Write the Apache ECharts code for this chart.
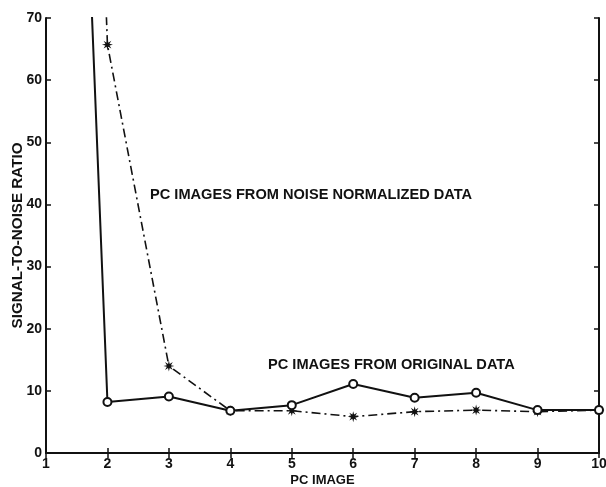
<!DOCTYPE html>
<html>
<head>
<meta charset="utf-8">
<script src="https://cdn.jsdelivr.net/npm/echarts@6/dist/echarts.min.js"></script>
<style>
  html, body { margin: 0; padding: 0; background: #fff; }
  #chart01 { width: 606px; height: 487px; }
</style>
</head>
<body>
<div id="chart01"></div>
<script>
// PC image number on the x axis
const pcImages = [1, 2, 3, 4, 5, 6, 7, 8, 9, 10];
// SNR of PC images from original data (first value is far above the plot)
const originalSnr = [255, 8.2, 9.1, 6.8, 7.7, 11.1, 8.9, 9.7, 6.9, 6.9];
// SNR of PC images from noise normalized data
const normalizedSnr = [330, 65.7, 14.0, 6.8, 6.8, 5.85, 6.65, 6.9, 6.65, 6.9];

const xLabel = "PC IMAGE";
const yLabel = "SIGNAL-TO-NOISE RATIO";
const noteNormalized = "PC IMAGES FROM NOISE NORMALIZED DATA";
const noteOriginal = "PC IMAGES FROM ORIGINAL DATA";

const font = "'Liberation Sans', Arial, sans-serif";
const ink = "#111";
const starPath =
  "path://M5,0 L5.77,3.15 L8.54,1.46 L6.85,4.23 L10,5 L6.85,5.77 L8.54,8.54 L5.77,6.85 L5,10 L4.23,6.85 L1.46,8.54 L3.15,5.77 L0,5 L3.15,4.23 L1.46,1.46 L4.23,3.15 Z";

const toPoints = (vals) => pcImages.map((x, i) => [x, vals[i]]);

const chart = echarts.init(document.getElementById("chart01"));

// shared axis look: black frame, ticks pointing inward
const frameAxis = {
  axisLine: { show: true, lineStyle: { color: ink, width: 2 } },
  axisTick: { show: true, inside: true, length: 5, lineStyle: { color: ink, width: 1.5 } },
  splitLine: { show: false },
};

chart.setOption({
  animation: false,
  backgroundColor: "#fff",
  grid: { left: 46, right: 7, top: 18, bottom: 34, containLabel: false, outerBoundsMode: "none" },
  xAxis: [
    {
      type: "value",
      min: 1,
      max: 10,
      interval: 1,
      position: "bottom",
      ...frameAxis,
      axisLabel: { color: ink, fontFamily: font, fontSize: 14, fontWeight: "bold", margin: 4 },
      name: xLabel,
      nameLocation: "middle",
      nameGap: 21,
      nameMoveOverlap: false,
      nameTextStyle: { color: ink, fontFamily: font, fontSize: 13, fontWeight: "bold" },
    },
    {
      type: "value",
      min: 1,
      max: 10,
      interval: 1,
      position: "top",
      ...frameAxis,
      axisLabel: { show: false },
    },
  ],
  yAxis: [
    {
      type: "value",
      min: 0,
      max: 70,
      interval: 10,
      position: "left",
      ...frameAxis,
      axisLabel: { color: ink, fontFamily: font, fontSize: 14, fontWeight: "bold", margin: 4 },
      name: yLabel,
      nameLocation: "middle",
      nameGap: 21,
      nameMoveOverlap: false,
      nameTextStyle: { color: ink, fontFamily: font, fontSize: 15.2, fontWeight: "bold" },
    },
    {
      type: "value",
      min: 0,
      max: 70,
      interval: 10,
      position: "right",
      ...frameAxis,
      axisLabel: { show: false },
    },
  ],
  series: [
    {
      name: noteOriginal,
      type: "line",
      data: toPoints(originalSnr),
      clip: true,
      symbol: "emptyCircle",
      symbolSize: 8,
      lineStyle: { color: ink, width: 2 },
      itemStyle: { color: ink, borderColor: ink, borderWidth: 1.5 },
      z: 3,
    },
    {
      name: noteNormalized,
      type: "line",
      data: toPoints(normalizedSnr),
      clip: true,
      symbol: starPath,
      symbolSize: 11,
      lineStyle: { color: ink, width: 1.6, type: [9, 4, 2, 4] },
      itemStyle: { color: ink },
      z: 2,
    },
  ],
  graphic: [
    {
      type: "text",
      x: 150,
      y: 195,
      style: { text: noteNormalized, fill: ink, font: "bold 14.6px " + font, verticalAlign: "middle" },
    },
    {
      type: "text",
      x: 268,
      y: 365,
      style: { text: noteOriginal, fill: ink, font: "bold 14.6px " + font, verticalAlign: "middle" },
    },
  ],
});
</script>
</body>
</html>
